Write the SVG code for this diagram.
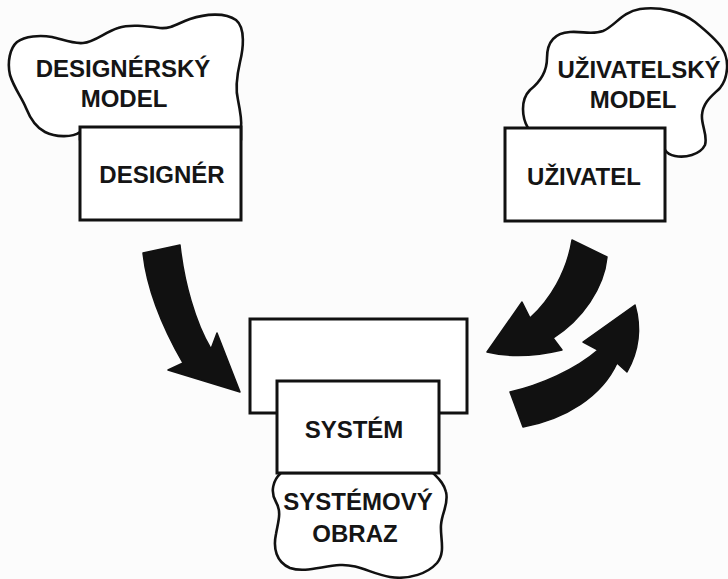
<svg xmlns="http://www.w3.org/2000/svg" width="728" height="579" viewBox="0 0 728 579">
  <style>
    .cloud { fill: #ffffff; stroke: #111111; stroke-width: 2.6; stroke-linejoin: round; }
    .box { fill: #ffffff; stroke: #111111; stroke-width: 3; }
    .label { font-family: "Liberation Sans", Arial, sans-serif; font-weight: bold; font-size: 24px; fill: #151515; text-anchor: middle; }
    .arrow { fill: #111111; stroke: #111111; stroke-width: 1.5; stroke-linejoin: round; }
  </style>
  <rect width="728" height="579" fill="#fcfcfc"/>

  <!-- designer's mental model and the designer -->
  <g id="designer-model">
    <path class="cloud" d="M80,132 C72,138 55,137 45,132 C35,127 30,118 26,108 C22,98 14,88 10,75 C7,62 10,48 17,42 C25,36 40,35 52,37 C62,39 72,44 83,43 C95,42 105,32 118,28 C130,24 145,26 160,28 C172,29 178,23 190,19 C205,14 225,12 236,20 C246,28 243,50 240,62 C237,75 235,88 238,100 C240,110 242,120 241,127 L241,140 L80,140 Z"/>
    <text class="label" x="123" y="77">DESIGNÉRSKÝ</text>
    <text class="label" x="124" y="107">MODEL</text>
  </g>
  <g id="designer">
    <rect class="box" x="80" y="127" width="161" height="93"/>
    <text class="label" x="162" y="183">DESIGNÉR</text>
  </g>

  <!-- user's mental model and the user -->
  <g id="user-model">
    <path class="cloud" d="M528,128 C522,118 520,100 530,90 C540,82 547,72 547,58 C547,42 555,33 570,32 C582,31 592,35 603,31 C615,26 622,12 640,9 C660,6 682,12 695,22 C705,30 715,38 722,48 C730,60 728,78 720,88 C712,96 703,102 702,115 C701,125 708,135 705,145 C700,155 685,158 675,156 C670,155 667,153 665,150 L650,150 L528,140 Z"/>
    <text class="label" x="639" y="78">UŽIVATELSKÝ</text>
    <text class="label" x="633" y="108">MODEL</text>
  </g>
  <g id="user">
    <rect class="box" x="505" y="128" width="160" height="93"/>
    <text class="label" x="584" y="185">UŽIVATEL</text>
  </g>

  <!-- the system and its image -->
  <g id="system">
    <rect class="box" x="250" y="319" width="217" height="94"/>
    <path class="cloud" d="M281,473 C273,480 270,492 276,502 C282,512 278,522 276,534 C273,548 276,562 290,568 C305,573 322,566 340,565 C358,564 372,574 390,577 C410,580 428,573 437,563 C446,552 440,538 441,525 C442,512 449,504 446,492 C444,483 438,478 433,473 Z"/>
    <rect class="box" x="277" y="381" width="162" height="92"/>
    <text class="label" x="354" y="438">SYSTÉM</text>
  </g>
  <g id="system-image">
    <text class="label" x="358" y="510">SYSTÉMOVÝ</text>
    <text class="label" x="355" y="542">OBRAZ</text>
  </g>

  <!-- curved block arrows -->
  <g id="connectors">
    <path class="arrow" d="M143,253 L180,245 C184,282 195,322 211,349 L217,333 L240,392 L168,370 L183,363 C164,330 147,290 143,253 Z"/>
    <path class="arrow" d="M572,240 L607,257 C604,288 582,320 553,338 L562,350 Q520,360 487,352 L522,302 L530,318 C550,300 567,272 572,240 Z"/>
    <path class="arrow" d="M510,392 C540,385 575,370 598,350 L583,342 L635,305 Q645,340 627,372 L617,363 C602,396 566,419 523,427 Z"/>
  </g>
</svg>
